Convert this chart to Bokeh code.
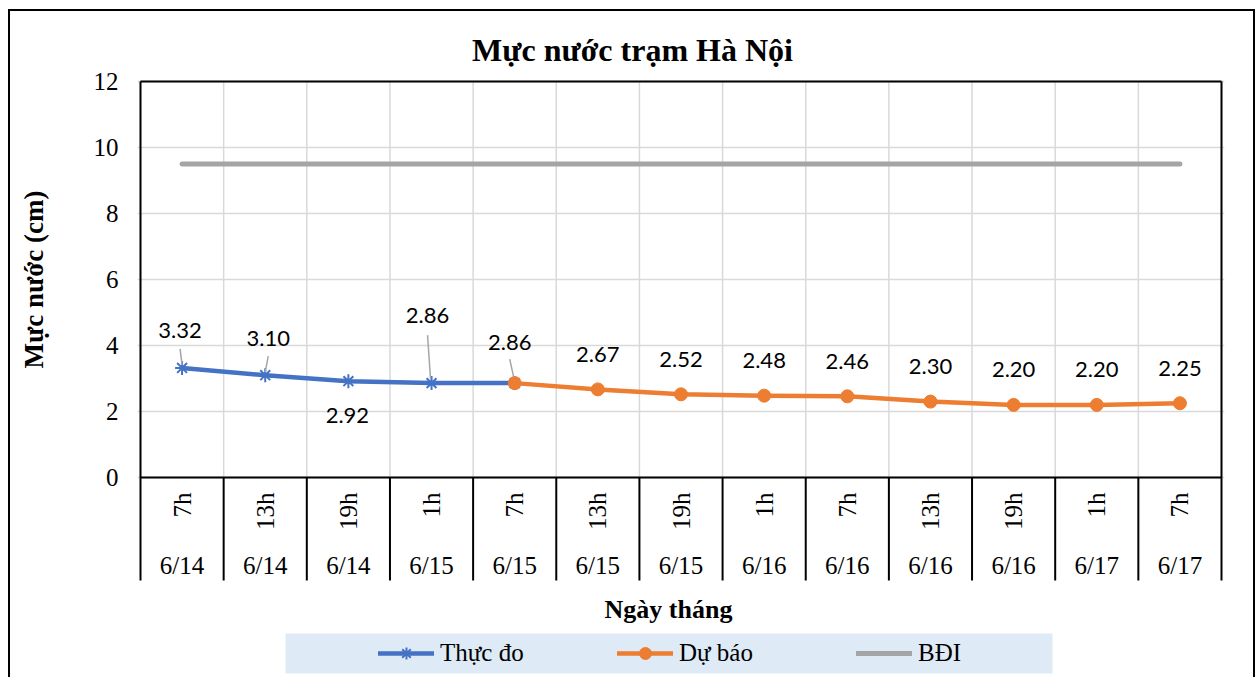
import math
from bokeh.plotting import figure
from bokeh.layouts import row
from bokeh.models import Range1d, FixedTicker, Legend, LegendItem, ColumnDataSource
from bokeh.embed import file_html
from bokeh.resources import INLINE
from bokeh.core.properties import value

# ---------------- data ----------------
title = "Mực nước trạm Hà Nội"
y_title = "Mực nước (cm)"
x_title = "Ngày tháng"
hours = ["7h", "13h", "19h", "1h", "7h", "13h", "19h", "1h", "7h", "13h", "19h", "1h", "7h"]
dates = ["6/14", "6/14", "6/14", "6/15", "6/15", "6/15", "6/15", "6/16", "6/16", "6/16", "6/16", "6/17", "6/17"]
obs_idx = [0, 1, 2, 3, 4]
obs_val = [3.32, 3.10, 2.92, 2.86, 2.86]
fc_idx = [4, 5, 6, 7, 8, 9, 10, 11, 12]
fc_val = [2.86, 2.67, 2.52, 2.48, 2.46, 2.30, 2.20, 2.20, 2.25]
bdi_idx = [0, 12]
bdi_val = [9.5, 9.5]
y_ticks = [0, 2, 4, 6, 8, 10, 12]
y_min, y_max = 0, 12

# ---------------- layout (page pixels) ----------------
MARGIN_L, MARGIN_T, BORDER = 8, 9, 2
OUTER_X0, OUTER_Y0 = MARGIN_L + BORDER, MARGIN_T + BORDER   # inner origin of the chart box
OUTER_R = 1253
H = 666
SIDE_W = 70                        # strip holding the y-axis title
CANVAS_X0 = OUTER_X0 + SIDE_W      # main canvas origin (page)
CANVAS_Y0 = OUTER_Y0
W = OUTER_R - CANVAS_X0
PLOT_L, PLOT_R = 140, 1221         # plot area edges on the page
PLOT_T, PLOT_B = 81, 477           # top (12) and bottom (0) of the value area
CAT_B = 580                        # bottom of the category box
PAD = 3
FRAME_L, FRAME_R = PLOT_L - PAD, PLOT_R + PAD
FRAME_B = CANVAS_Y0 + H
n = len(hours)
SX = (PLOT_R - PLOT_L) / n                 # px per category
SY = (PLOT_B - PLOT_T) / (y_max - y_min)   # px per unit

def px2x(px):
    return (px - PLOT_L) / SX - 0.5

def py2y(py):
    return y_max - (py - PLOT_T) / SY

x_start, x_end = px2x(FRAME_L), px2x(FRAME_R)
y_top, y_bot = py2y(CANVAS_Y0), py2y(FRAME_B)

BLUE, ORANGE, GRAY = "#4472C4", "#ED7D31", "#A5A5A5"
GRID = "#D9D9D9"
SERIF = "Liberation Serif"

idx = list(range(n))
bounds = [i - 0.5 for i in range(n + 1)]

# ---------- side strip with the y-axis title ----------
side = figure(width=SIDE_W, height=H, output_backend="svg", toolbar_location=None,
              x_range=Range1d(OUTER_X0, OUTER_X0 + SIDE_W), y_range=Range1d(OUTER_Y0 + H, OUTER_Y0),
              min_border=0)
side.axis.visible = False
side.grid.visible = False
side.outline_line_color = None
side.background_fill_color = "white"
side.border_fill_color = "white"
side.text(x=[33], y=[(PLOT_T + PLOT_B) / 2], text=[y_title], angle=math.pi / 2,
          text_font=value(SERIF), text_font_style="bold", text_font_size="27px", text_color="black",
          text_align="center", text_baseline="middle")

# ---------- main chart ----------
p = figure(width=W, height=H, output_backend="svg", toolbar_location=None,
           x_range=Range1d(x_start, x_end), y_range=Range1d(y_bot, y_top),
           min_border_left=FRAME_L - CANVAS_X0, min_border_right=CANVAS_X0 + W - FRAME_R,
           min_border_top=0, min_border_bottom=0)
p.background_fill_color = "white"
p.border_fill_color = "white"
p.outline_line_color = None
p.xaxis.visible = False
p.xgrid.visible = False

# y axis (real axis)
ya = p.yaxis[0]
ya.bounds = (y_min, y_max)
ya.ticker = FixedTicker(ticks=y_ticks)
ya.major_tick_out = 0
ya.major_tick_in = 0
ya.minor_tick_out = 0
ya.minor_tick_in = 0
ya.axis_line_color = None
ya.major_label_text_font = SERIF
ya.major_label_text_font_size = "25px"
ya.major_label_text_color = "black"
ya.major_label_standoff = 19

# horizontal gridlines
p.ygrid.ticker = FixedTicker(ticks=y_ticks)
p.ygrid.grid_line_color = GRID
p.ygrid.grid_line_width = 1.5
# vertical gridlines at category boundaries (value area only)
p.segment(x0=bounds, y0=[y_min] * len(bounds), x1=bounds, y1=[y_max] * len(bounds),
          line_color=GRID, line_width=1.5)
# black box: top, bottom of value area, category separators
p.segment(x0=[bounds[0], bounds[0]], y0=[y_max, y_min], x1=[bounds[-1], bounds[-1]], y1=[y_max, y_min],
          line_color="black", line_width=2)
p.segment(x0=bounds[1:-1], y0=[py2y(CAT_B)] * (n - 1), x1=bounds[1:-1], y1=[y_min] * (n - 1),
          line_color="black", line_width=2)
p.segment(x0=[bounds[0], bounds[-1]], y0=[py2y(CAT_B)] * 2, x1=[bounds[0], bounds[-1]], y1=[y_max] * 2,
          line_color="black", line_width=2)

# legend band
p.quad(left=px2x(285), right=px2x(1052), top=py2y(633), bottom=py2y(673),
       fill_color="#DEEBF7", line_color=None)

# category labels
p.text(x=idx, y=[py2y(492)] * n, text=hours, angle=math.pi / 2,
       text_font=value(SERIF), text_font_size="25px", text_color="black",
       text_align="right", text_baseline="middle")
p.text(x=idx, y=[py2y(565)] * n, text=dates,
       text_font=value(SERIF), text_font_size="25px", text_color="black",
       text_align="center", text_baseline="middle")
# x-axis title and chart title
p.text(x=[px2x(668)], y=[py2y(609)], text=[x_title],
       text_font=value(SERIF), text_font_style="bold", text_font_size="26px", text_color="black",
       text_align="center", text_baseline="middle")
p.text(x=[px2x(632)], y=[py2y(49)], text=[title],
       text_font=value(SERIF), text_font_style="bold", text_font_size="32px", text_color="black",
       text_align="center", text_baseline="middle")

# series
r_obs_l = p.line(obs_idx, obs_val, line_color=BLUE, line_width=4.5, line_join="round", line_cap="round")
r_obs_m = p.scatter(obs_idx, obs_val, marker="asterisk", size=14, line_color=BLUE, line_width=2)
r_fc_l = p.line(fc_idx, fc_val, line_color=ORANGE, line_width=4.5, line_join="round", line_cap="round")
r_fc_m = p.scatter(fc_idx, fc_val, marker="circle", size=13, fill_color=ORANGE, line_color=ORANGE)
r_bdi = p.line(bdi_idx, bdi_val, line_color=GRAY, line_width=5, line_cap="round")

# data labels
lab_x = obs_idx[:4] + fc_idx
lab_v = obs_val[:4] + fc_val
lab_dx = [-2, 3, -1, -4, -5, 0, 0, 0, 0, 0, 0, 0, 0]
lab_dy = [-37, -37, 34, -68, -41, -35, -35, -35, -35, -35, -35, -35, -35]
src = ColumnDataSource(dict(x=lab_x, y=lab_v, t=[f"{v:.2f}" for v in lab_v], dx=lab_dx, dy=lab_dy))
p.text(x="x", y="y", text="t", x_offset="dx", y_offset="dy", source=src,
       text_font=value("Lato"), text_font_size="22px", text_color="black",
       text_align="center", text_baseline="middle")

# leader lines (pixel offsets converted through the scale)
lead_i = [0, 1, 3, 4]
lead_px = [(-2, -19, 0, -3), (3, -19, 0, -3), (-4, -48, -1, -4), (-5, -24, -1, -6)]
x0, y0, x1, y1 = [], [], [], []
for k, (a, b, c, d) in zip(lead_i, lead_px):
    v, xi = lab_v[k], lab_x[k]
    x0.append(xi + a / SX); y0.append(v - b / SY)
    x1.append(xi + c / SX); y1.append(v - d / SY)
p.segment(x0, y0, x1, y1, line_color="#A6A6A6", line_width=1.5)

# legend (inside the frame, on the band)
legend = Legend(items=[LegendItem(label="Thực đo", renderers=[r_obs_l, r_obs_m]),
                       LegendItem(label="Dự báo", renderers=[r_fc_l, r_fc_m]),
                       LegendItem(label="BĐI", renderers=[r_bdi])],
                orientation="horizontal", location=(378 - FRAME_L, FRAME_B - 668),
                glyph_width=56, glyph_height=30, label_standoff=6, label_width=145, spacing=32,
                padding=0, margin=0,
                background_fill_alpha=0, border_line_color=None,
                label_text_font=SERIF, label_text_font_size="25px", label_text_color="black")
p.add_layout(legend, "center")

layout = row(side, p, spacing=0,
             styles={"margin-left": f"{MARGIN_L}px", "margin-top": f"{MARGIN_T}px",
                     "border-left": "2px solid black", "border-right": "2px solid black",
                     "border-top": "2px solid black"})

open("out.html", "w").write(file_html(layout, INLINE))
